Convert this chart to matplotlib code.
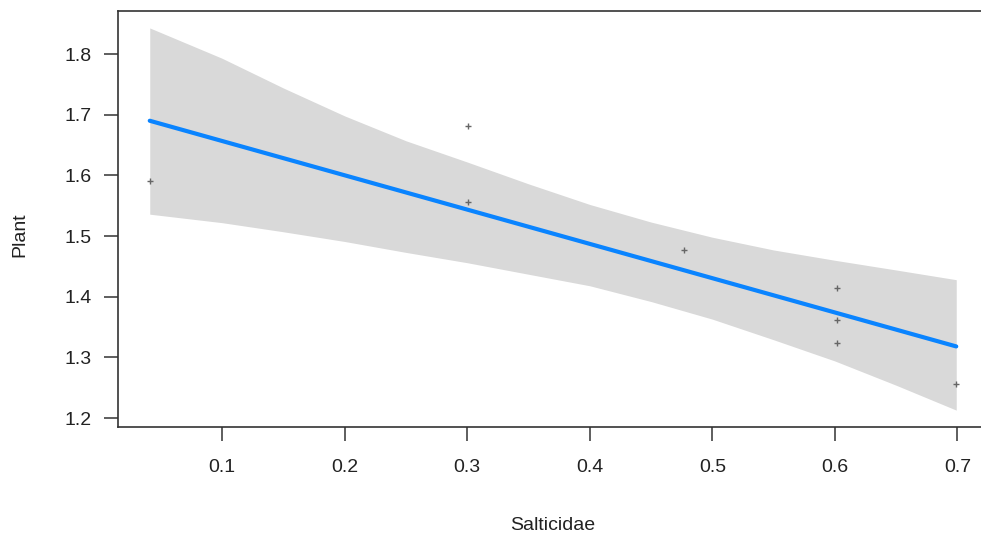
import numpy as np
import matplotlib
matplotlib.use('Agg')
import matplotlib.pyplot as plt

plt.rcParams['font.family'] = ['Liberation Sans', 'DejaVu Sans']

# observed points (log10 scale)
salticidae = [0.041, 0.301, 0.301, 0.477, 0.602, 0.602, 0.602, 0.699]
plant      = [1.590, 1.681, 1.556, 1.477, 1.414, 1.362, 1.323, 1.256]

# fitted line and confidence band
fit_x   = [0.041, 0.699]
fit_y   = [1.690, 1.318]
band_x  = [0.041, 0.1, 0.15, 0.2, 0.25, 0.3, 0.35, 0.4,
           0.45, 0.5, 0.55, 0.6, 0.65, 0.699]
band_lo = [1.536, 1.522, 1.507, 1.491, 1.473, 1.456, 1.437, 1.418,
           1.392, 1.363, 1.329, 1.294, 1.254, 1.213]
band_hi = [1.843, 1.793, 1.744, 1.698, 1.657, 1.622, 1.586, 1.552,
           1.523, 1.498, 1.477, 1.460, 1.444, 1.428]

x_ticks = [0.1, 0.2, 0.3, 0.4, 0.5, 0.6, 0.7]
y_ticks = [1.2, 1.3, 1.4, 1.5, 1.6, 1.7, 1.8]

fig = plt.figure(figsize=(9.81, 5.39), dpi=100)
ax = fig.add_axes([118/981, 1 - 427/539, 1 - 118/981, (427 - 11)/539])

ax.fill_between(band_x, band_lo, band_hi, color='#d9d9d9', lw=0, zorder=1)
ax.plot(fit_x, fit_y, color='#0a84ff', lw=3, solid_capstyle='round', zorder=2)
ax.plot(salticidae, plant, ls='none', marker='+', ms=4, mew=1,
        color='#666666', zorder=3)

ax.set_xlim(0.0151, 0.7192)
ax.set_ylim(1.1852, 1.8709)
ax.set_xticks(x_ticks)
ax.set_yticks(y_ticks)
ax.set_xticklabels([f'{v:.1f}' for v in x_ticks])
ax.set_yticklabels([f'{v:.1f}' for v in y_ticks])

for s in ['left', 'top', 'bottom']:
    ax.spines[s].set_color('#333333')
    ax.spines[s].set_linewidth(1.2)
ax.spines['right'].set_visible(False)

ax.tick_params(axis='both', direction='out', length=10, width=1.1,
               color='#333333', labelsize=14, labelcolor='#222222')
ax.tick_params(axis='x', pad=13)
ax.tick_params(axis='y', pad=9)

fig.text(553/981, 1 - 525/539, 'Salticidae', ha='center', va='center',
         fontsize=14, color='#222222')
fig.text(20/981, 1 - 235/539, 'Plant', ha='center', va='center',
         rotation=90, fontsize=14, color='#222222')

fig.savefig('out.png', dpi=100)
